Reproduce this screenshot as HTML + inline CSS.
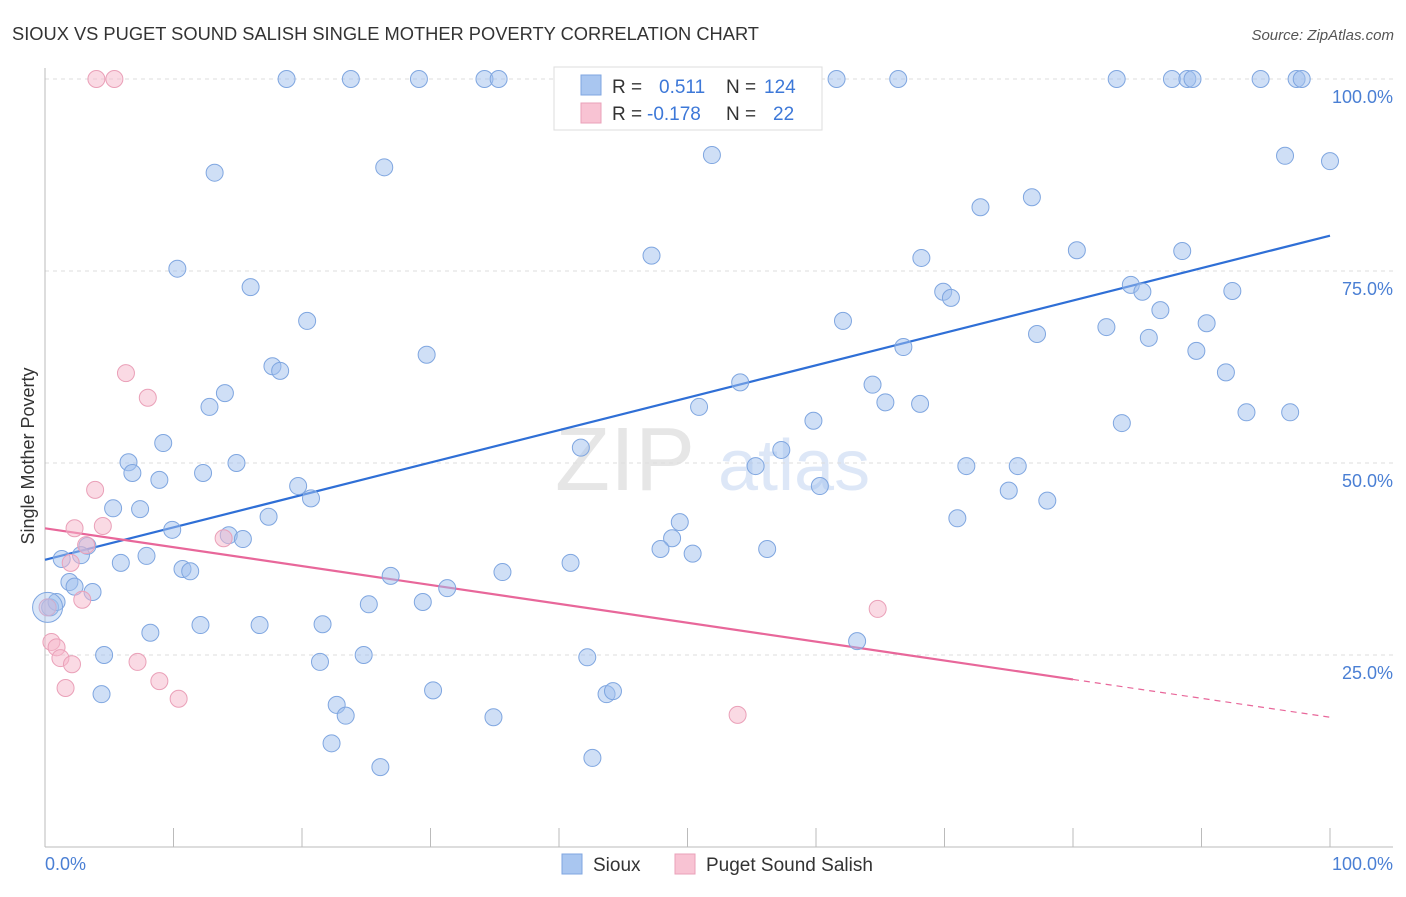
<!DOCTYPE html>
<html><head><meta charset="utf-8"><style>
body{margin:0;background:#fff;font-family:"Liberation Sans",sans-serif;}
svg text{font-family:"Liberation Sans",sans-serif;}
</style></head><body>
<svg id="chart" width="1406" height="892" xmlns="http://www.w3.org/2000/svg">
<text x="12" y="40" font-size="18.3" fill="#333">SIOUX VS PUGET SOUND SALISH SINGLE MOTHER POVERTY CORRELATION CHART</text>
<text x="1394" y="40" font-size="15" fill="#555" text-anchor="end" font-style="italic">Source: ZipAtlas.com</text>
<g opacity="0.18">
<text x="555" y="490" font-size="90" font-family="Liberation Serif,serif" fill="#777">ZIP</text>
<text x="718" y="490" font-size="72" fill="#4a7fd4">atlas</text>
</g>
<g id="grid"></g>
<g id="axes"></g>
<g id="lines"></g>
<g id="points"></g>
<text transform="translate(34,456) rotate(-90)" font-size="18" fill="#333" text-anchor="middle">Single Mother Poverty</text>
<text x="45" y="870" font-size="18" fill="#4a7fd4">0.0%</text>
<text x="1393" y="870" font-size="18" fill="#4a7fd4" text-anchor="end">100.0%</text>
<g>
<rect x="554" y="67" width="268" height="63" fill="#fff" stroke="#ddd"/>
<rect x="581" y="75" width="20" height="20" fill="#a9c6f0" stroke="#7fa6e0"/>
<rect x="581" y="103" width="20" height="20" fill="#f8c3d3" stroke="#eaa0b8"/>
<text x="612" y="93" font-size="19" fill="#333">R =</text>
<text x="659" y="93" font-size="19" fill="#3d78d8">0.511</text>
<text x="726" y="93" font-size="19" fill="#333">N =</text>
<text x="764" y="93" font-size="19" fill="#3d78d8">124</text>
<text x="612" y="120" font-size="19" fill="#333">R =</text>
<text x="647" y="120" font-size="19" fill="#3d78d8">-0.178</text>
<text x="726" y="120" font-size="19" fill="#333">N =</text>
<text x="773" y="120" font-size="19" fill="#3d78d8">22</text>
</g>
<g>
<rect x="562" y="854" width="20" height="20" fill="#a9c6f0" stroke="#7fa6e0"/>
<text x="593" y="871" font-size="19" fill="#333">Sioux</text>
<rect x="675" y="854" width="20" height="20" fill="#f8c3d3" stroke="#eaa0b8"/>
<text x="706" y="871" font-size="19" fill="#333">Puget Sound Salish</text>
</g>
</svg>
<script>
const siouxX=[18.8,23.8,29.1,34.2,35.3,43.4,54.3,61.6,66.4,83.4,87.7,88.9,89.3,94.6,97.4,97.8,13.2,26.4,51.9,96.5,100,72.8,76.8,10.3,47.2,80.3,88.5,16.0,68.2,69.9,70.5,84.5,85.4,92.4,20.4,62.1,82.6,86.8,90.4,77.2,85.9,29.7,66.8,89.6,17.7,18.3,91.9,54.1,64.4,14.0,12.8,50.9,65.4,68.1,93.5,96.9,59.8,83.8,9.2,41.7,57.3,6.5,14.9,6.8,12.3,55.3,71.7,75.7,8.9,19.7,60.3,75.0,20.7,78.0,5.3,7.4,17.4,71.0,49.4,9.9,14.3,15.4,48.8,3.3,47.9,56.2,2.8,1.3,7.9,50.4,5.9,40.9,10.7,11.3,35.6,26.9,1.9,2.3,31.3,3.7,0.4,0.9,25.2,29.4,8.2,12.1,16.7,21.6,63.2,4.6,24.8,42.2,21.4,4.4,30.2,43.7,44.2,22.7,23.4,34.9,22.3,26.1,42.6];
const siouxY=[100,100,100,100,100,100,100,100,100,100,100,100,100,100,100,100,87.8,88.5,90.1,90.0,89.3,83.3,84.6,75.3,77.0,77.7,77.6,72.9,76.7,72.3,71.5,73.2,72.3,72.4,68.5,68.5,67.7,69.9,68.2,66.8,66.3,64.1,65.1,64.6,62.6,62.0,61.8,60.5,60.2,59.1,57.3,57.3,57.9,57.7,56.6,56.6,55.5,55.2,52.6,52.0,51.7,50.1,50.0,48.7,48.7,49.6,49.6,49.6,47.8,47.0,47.0,46.4,45.4,45.1,44.1,44.0,43.0,42.8,42.3,41.3,40.6,40.1,40.2,39.2,38.8,38.8,38.0,37.5,37.9,38.2,37.0,37.0,36.2,35.9,35.8,35.3,34.5,33.9,33.7,33.2,31.2,31.9,31.6,31.9,27.9,28.9,28.9,29.0,26.8,25.0,25.0,24.7,24.1,19.9,20.4,19.9,20.3,18.5,17.1,16.9,13.5,10.4,11.6];
const salishX=[4.0,5.4,6.3,8.0,3.9,2.3,4.5,13.9,3.2,2.0,2.9,0.2,0.5,0.9,1.2,2.1,7.2,1.6,8.9,10.4,64.8,53.9];
const salishY=[100,100,61.7,58.5,46.5,41.5,41.8,40.2,39.3,37.0,32.2,31.2,26.7,26.0,24.6,23.8,24.1,20.7,21.6,19.3,31.0,17.2];
const yTicks=[25,50,75,100];
const yTickLabels=["25.0%","50.0%","75.0%","100.0%"];
const xTicks=[10,20,30,40,50,60,70,80,90,100];
const siouxTrend=[37.4,79.6];
const salishTrend=[41.5,16.9];
const salishSolidEnd=80;

const NS="http://www.w3.org/2000/svg";
const xs=v=>45+v*12.85, ys=v=>847-v*7.68;
function mk(parent,tag,attrs){const e=document.createElementNS(NS,tag);for(const k in attrs)e.setAttribute(k,attrs[k]);document.getElementById(parent).appendChild(e);return e;}
yTicks.forEach((t,i)=>{
 const g=mk('grid','line',{x1:45,x2:1393,y1:ys(t),y2:ys(t),stroke:'#ddd','stroke-dasharray':'4,4'});
 
 
 const l=mk('grid','text',{x:1393,y:ys(t)+24,'font-size':18,fill:'#4a7fd4','text-anchor':'end'});
 l.textContent=yTickLabels[i];
 
 
});
let a=mk('axes','line',{x1:45,x2:45,y1:68,y2:847,stroke:'#bbb'});


a=mk('axes','line',{x1:45,x2:1393,y1:847,y2:847,stroke:'#bbb'});


xTicks.forEach(t=>{
 const k=mk('axes','line',{x1:xs(t),x2:xs(t),y1:828,y2:847,stroke:'#bbb'});
 
 
});
function pts(X,Y,fill,stroke,name){
 X.forEach((x,i)=>{
  const c=mk('points','circle',{cx:xs(x),cy:ys(Y[i]),r:8.5,fill:fill,stroke:stroke,'stroke-width':1});
  
  
 });
}
pts(siouxX,siouxY,'rgba(160,192,238,0.5)','#7fa6e0','sioux-point');
pts(salishX,salishY,'rgba(246,182,202,0.5)','#eaa0b8','salish-point');
const big=mk('points','circle',{cx:xs(0.2),cy:ys(31.2),r:15,fill:'rgba(160,192,238,0.4)',stroke:'#7fa6e0'});


let t=mk('lines','line',{x1:xs(0),y1:ys(siouxTrend[0]),x2:xs(100),y2:ys(siouxTrend[1]),stroke:'#2f6fd6','stroke-width':2.2});


const sy=salishTrend[0]+(salishTrend[1]-salishTrend[0])*salishSolidEnd/100;
t=mk('lines','line',{x1:xs(0),y1:ys(salishTrend[0]),x2:xs(salishSolidEnd),y2:ys(sy),stroke:'#e8679a','stroke-width':2.2});


t=mk('lines','line',{x1:xs(salishSolidEnd),y1:ys(sy),x2:xs(100),y2:ys(salishTrend[1]),stroke:'#e8679a','stroke-width':1.2,'stroke-dasharray':'6,5'});


</script>
</body></html>
